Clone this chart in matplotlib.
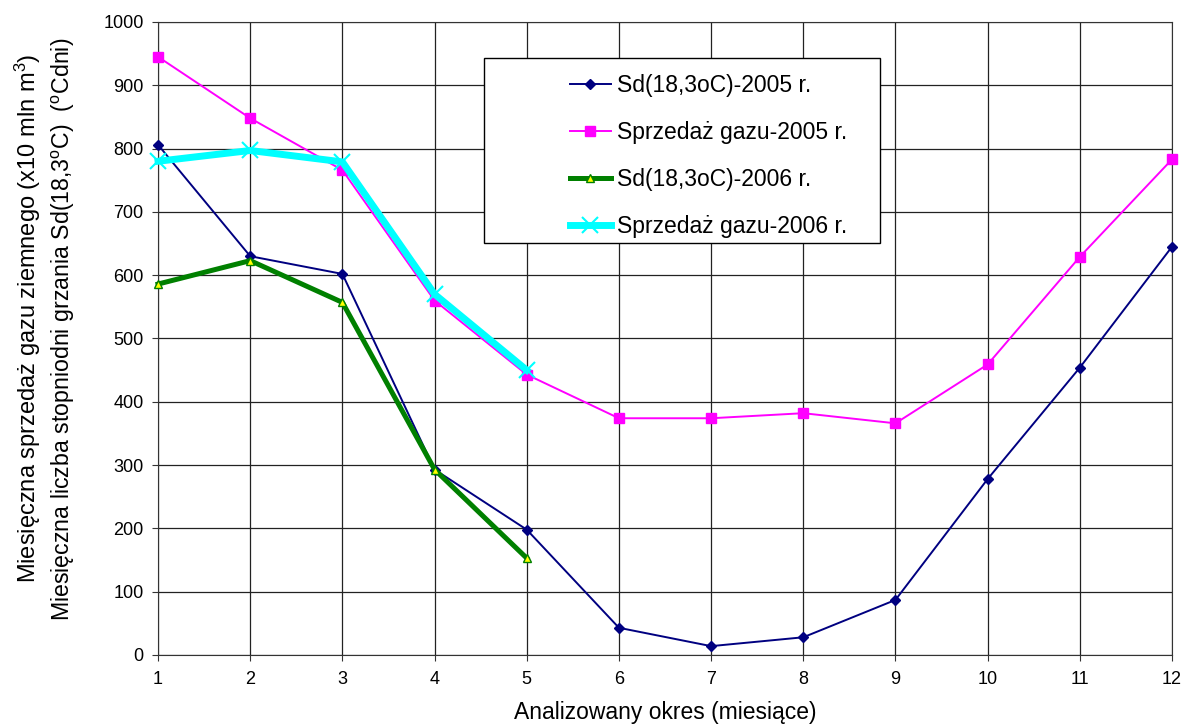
import matplotlib.pyplot as plt
from matplotlib.patches import Rectangle

plt.rcParams['font.family'] = ['Liberation Sans', 'DejaVu Sans']
plt.rcParams['mathtext.fontset'] = 'custom'
plt.rcParams['mathtext.rm'] = 'Liberation Sans'
plt.rcParams['mathtext.it'] = 'Liberation Sans:italic'

# dane
months = [1, 2, 3, 4, 5, 6, 7, 8, 9, 10, 11, 12]
sd_2005 = [806, 630, 602, 293, 198, 43, 14, 28, 87, 278, 454, 645]
gas_2005 = [945, 848, 766, 560, 443, 374, 374, 382, 366, 459, 629, 783]
months_2006 = [1, 2, 3, 4, 5]
sd_2006 = [586, 623, 557, 293, 153]
gas_2006 = [780, 797, 779, 570, 450]

fig = plt.figure(figsize=(11.83, 7.26), dpi=100)
ax = fig.add_axes([0.1336, 0.0978, 0.8571, 0.8719])

ax.plot(months, sd_2005, color='#000080', lw=1.4, marker='D', ms=5.5,
        label='Sd(18,3oC)-2005 r.', clip_on=False, zorder=3)
ax.plot(months, gas_2005, color='#FF00FF', lw=1.4, marker='s', ms=7,
        label='Sprzedaż gazu-2005 r.', clip_on=False, zorder=3)
ax.plot(months_2006, sd_2006, color='#008000', lw=3.6, marker='^', ms=6,
        mfc='#FFFF00', mec='#008000', mew=1, label='Sd(18,3oC)-2006 r.',
        clip_on=False, zorder=4)
ax.plot(months_2006, gas_2006, color='#00FFFF', lw=5, marker='x', ms=12,
        mew=1.5, label='Sprzedaż gazu-2006 r.', clip_on=False, zorder=4)

ax.set_xlim(1, 12)
ax.set_ylim(0, 1000)
ax.set_xticks(months)
ax.set_yticks(range(0, 1001, 100))
ax.grid(True, color='#222222', lw=0.9)
ax.tick_params(labelsize=13, direction='out', length=4.3, color='#333333')
ax.tick_params(axis='x', pad=7)
ax.tick_params(axis='y', pad=6)
for s in ax.spines.values():
    s.set_color('#333333')

fig.text(0.562, 0.019, 'Analizowany okres (miesiące)', fontsize=16.5,
         ha='center', va='center')

fig.text(0.024, 0.562, 'Miesięczna sprzedaż gazu ziemnego (x10 mln m$^{3}$)',
         rotation=90, fontsize=17, ha='center', va='center')
fig.text(0.054, 0.547,
         'Miesięczna liczba stopniodni grzania Sd(18,3$^{\\mathrm{o}}$C)  ($^{\\mathrm{o}}$Cdni)',
         rotation=90, fontsize=16.7, ha='center', va='center')

# ramka legendy
ax.add_patch(Rectangle((0.3215, 0.651), 0.3905, 0.292, transform=ax.transAxes,
                       facecolor='white', edgecolor='black', lw=1, zorder=5))
leg = ax.legend(loc='upper left', bbox_to_anchor=(0.406, 0.918), frameon=False,
                fontsize=16.5, handlelength=1.8, handletextpad=0.25,
                labelspacing=1.05, borderpad=0, borderaxespad=0)
leg.set_zorder(6)

plt.savefig('out.png', dpi=100)
